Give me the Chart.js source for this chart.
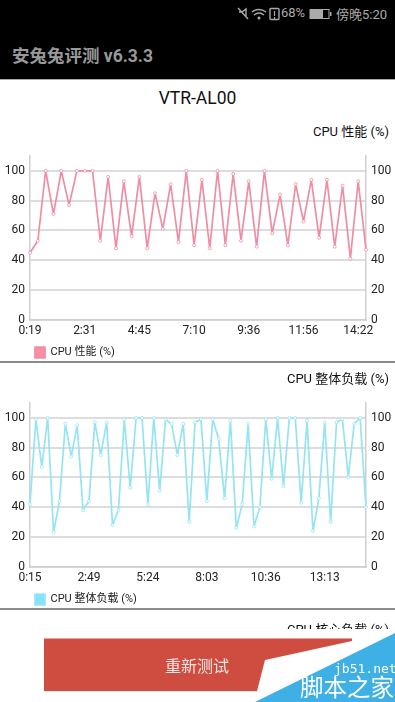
<!DOCTYPE html>
<html>
<head>
<meta charset="utf-8">
<script src="https://cdn.jsdelivr.net/npm/chart.js@4"></script>
<style>
    html, body { margin: 0; padding: 0; background: #fff; }
    body { width: 395px; height: 702px; overflow: hidden; position: relative; font-family: Roboto, "Noto Sans CJK SC", sans-serif; }
    .abs { position: absolute; white-space: nowrap; }
    #top { left: 0; top: 0; width: 395px; height: 79px; background: #000; border-bottom: 1px solid #aaa; }
    canvas { position: absolute; left: 0; }
    .sep { position: absolute; left: 0; width: 395px; height: 2px; background: #8c8c8c; }
    .ctitle { right: 6px; font-size: 13px; line-height: 18px; color: #111; }
</style>
</head>
<body>
<div class="abs" id="top"></div>
<svg class="abs" style="left:236px;top:7px" width="46" height="14" viewBox="0 0 46 14">
    <g fill="none" stroke="#aaa" stroke-width="1.4">
        <path d="M2 1 L12 12 M3 5 H6 L10 2 V10"/>
        <path d="M16 5 Q23 0 30 5 M18 8 Q23 4 28 8"/>
        <rect x="34" y="1.5" width="9" height="11" rx="1"/>
    </g>
    <circle cx="23" cy="11" r="1.5" fill="#aaa"/>
    <path d="M38.5 4 V9 M38.5 10 V12" stroke="#aaa" stroke-width="1.2"/>
</svg>
<div class="abs" style="left:281px;top:5px;font-size:13px;color:#aaa">68%</div>
<svg class="abs" style="left:309px;top:8px" width="24" height="12" viewBox="0 0 24 12">
    <rect x="1" y="1.5" width="19" height="9" fill="none" stroke="#aaa"/>
    <rect x="1" y="1.5" width="13" height="9" fill="#aaa"/>
    <rect x="21" y="4" width="1.5" height="4" fill="#aaa"/>
</svg>
<div class="abs" style="left:336px;top:4px;font-size:13px;color:#aaa">傍晚5:20</div>
<div class="abs" style="left:12px;top:42px;font-size:17.5px;font-weight:bold;color:#999">安兔兔评测 v6.3.3</div>
<div class="abs" style="left:0;width:395px;top:88px;text-align:center;font-size:17.5px;color:#111">VTR-AL00</div>

<div class="abs ctitle" id="perfTitle" style="top:123px"></div>
<canvas id="perfChart" style="top:120px" width="395" height="248"></canvas>
<div class="sep" style="top:361px"></div>
<div class="abs ctitle" id="loadTitle" style="top:370px"></div>
<canvas id="loadChart" style="top:367px" width="395" height="248"></canvas>
<div class="sep" style="top:608px"></div>

<div class="abs ctitle" style="top:621px;height:8px;overflow:hidden">CPU 核心负载 (%)</div>
<svg class="abs" style="left:0;top:630px" width="395" height="72" viewBox="0 630 395 72">
    <polygon points="44,640 261,692 44,692" fill="#c9c9c9" opacity="0.5"/>
    <polygon points="44,638.5 352,638.5 352,641 265,660 257,691 44,691" fill="#cf4d40"/>
    <polygon points="395,633 255,702 395,702" fill="#3fb0e6"/>
</svg>
<div class="abs" style="left:165px;top:653px;font-size:16px;color:#f6e4e0">重新测试</div>
<div class="abs" style="left:334px;top:661px;font-family:'DejaVu Sans Mono';font-size:13px;color:#fff">jb51.net</div>
<div class="abs" style="left:300px;top:675px;font-size:23.5px;line-height:27px;color:#fff">脚本之家</div>

<script>
// Chart 1 data
const perfTitle = "CPU 性能 (%)";
const perfTicks = ["0:19", "2:31", "4:45", "7:10", "9:36", "11:56", "14:22"];
const perfValues = [45, 53, 100, 71, 100, 77, 100, 100, 100, 53, 96, 48, 93, 56, 96, 48, 85, 61, 91, 52, 100, 50,
    94, 48, 100, 50, 98, 53, 93, 49, 100, 58, 84, 50, 91, 66, 94, 55, 94, 49, 90, 41, 93, 47];

// Chart 2 data
const loadTitle = "CPU 整体负载 (%)";
const loadTicks = ["0:15", "2:49", "5:24", "8:03", "10:36", "13:13"];
const loadValues = [42, 99, 67, 100, 23, 44, 96, 74, 95, 38, 44, 97, 75, 97, 28, 38, 99, 53, 100, 100, 42, 100, 51, 99,
    96, 75, 96, 30, 97, 99, 44, 99, 86, 46, 98, 26, 42, 96, 27, 40, 99, 59, 100, 54, 100, 100, 43, 98, 24, 46, 97, 30,
    97, 99, 60, 96, 100, 40];

const fontFamily = 'Roboto, "Noto Sans CJK SC", sans-serif';

function yAxis(position, width) {
    return {
        position: position,
        min: 0,
        max: 110,
        afterFit: scale => { scale.width = width; },
        border: { display: true, color: '#cfcfcf', width: 1.5 },
        grid: { display: position === 'left', color: '#dddddd', lineWidth: 2, drawTicks: false },
        ticks: { stepSize: 20, includeBounds: false, padding: 5, color: '#222', font: { family: fontFamily, size: 12 } }
    };
}

// the heading sits in a div, the right axis needs the full canvas width for its labels
function makeChart(id, title, values, tickLabels, every, color) {
    document.getElementById(id.replace('Chart', 'Title')).textContent = title;
    const labels = values.map((v, i) => i % every === 0 && tickLabels[i / every] ? tickLabels[i / every] : '');
    return new Chart(document.getElementById(id).getContext('2d'), {
        type: 'line',
        data: {
            labels: labels,
            datasets: [{
                label: title,
                data: values,
                borderColor: color.line,
                backgroundColor: color.box,
                borderWidth: 1.7,
                borderJoinStyle: 'round',
                tension: 0,
                pointRadius: 1.5,
                pointBorderWidth: 0.8,
                pointBackgroundColor: '#fff',
                pointBorderColor: color.line
            }]
        },
        options: {
            responsive: false,
            animation: false,
            layout: { padding: { top: 36 } },
            scales: {
                x: {
                    offset: false,
                    border: { display: true, color: '#cfcfcf', width: 1.5 },
                    grid: { display: false, drawTicks: false },
                    ticks: { autoSkip: false, maxRotation: 0, padding: 4, color: '#222', font: { family: fontFamily, size: 12 } }
                },
                y: yAxis('left', 30),
                y2: yAxis('right', 29)
            },
            plugins: {
                legend: {
                    position: 'bottom',
                    align: 'start',
                    fullSize: false,
                    labels: {
                        boxWidth: 10,
                        boxHeight: 11,
                        padding: 5,
                        color: '#222',
                        font: { family: fontFamily, size: 11 }
                    }
                }
            }
        }
    });
}

makeChart('perfChart', perfTitle, perfValues, perfTicks, 7, { line: '#ef8ea3', box: '#f98fa3' });
makeChart('loadChart', loadTitle, loadValues, loadTicks, 10, { line: '#95e4f3', box: '#84e2fa' });
</script>
</body>
</html>
